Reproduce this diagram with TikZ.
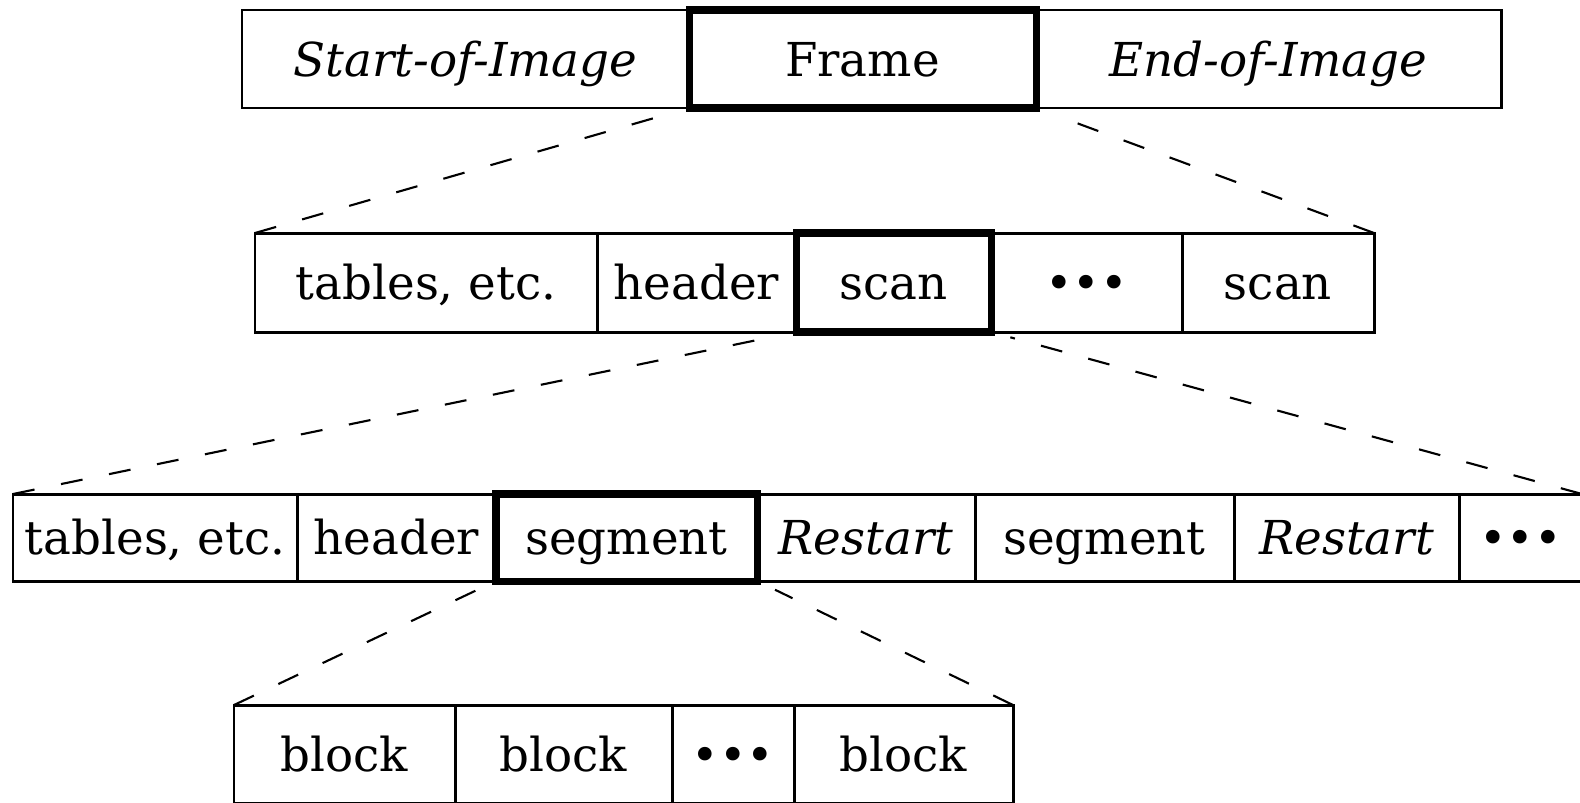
\documentclass[tikz,border=0pt]{standalone}
\usepackage{fontspec}
\setmainfont{DejaVu Serif}
\usepackage{tikz}
\usetikzlibrary{positioning}
\tikzset{
  cell/.style={draw,line width=0.85pt,inner sep=0pt,outer sep=0pt,text height=0.34cm,text depth=0pt,minimum height=#1},
  cell/.default=0.98cm,
  focus/.style={cell=#1,line width=2pt},
  focus/.default=0.98cm,
  link/.style={line width=0.6pt,dash pattern=on 0.22cm off 0.27cm,shorten >=0.2cm}
}

\begin{document}
\begin{tikzpicture}[font=\fontsize{13.3}{16}\selectfont]
  \useasboundingbox (0,0) rectangle (15.8,-8.02);
  \clip (0,0) rectangle (15.8,-8.02);
  % image level
  \node[cell,anchor=north west,minimum width=4.47cm] (soi) at (2.42,-0.10) {\itshape Start-of-Image};
  \node[focus,right=0pt of soi,minimum width=3.47cm] (frame) {Frame};
  \node[cell,right=0pt of frame,minimum width=4.65cm] (eoi) {\itshape End-of-Image};
  % frame level
  \node[cell=0.99cm,anchor=north west,minimum width=3.42cm] (tables) at (2.55,-2.33) {tables, etc.};
  \node[cell=0.99cm,right=0pt of tables,minimum width=1.99cm] (header) {header};
  \node[focus=0.99cm,right=0pt of header,minimum width=1.95cm] (scan) {scan};
  \node[cell=0.99cm,right=0pt of scan,minimum width=1.91cm] (scandots) {\textbullet\textbullet\textbullet};
  \node[cell=0.99cm,right=0pt of scandots,minimum width=1.92cm] (lastscan) {scan};
  % scan level
  \node[cell=0.87cm,anchor=north west,minimum width=2.84cm] (scantables) at (0.13,-4.94) {tables, etc.};
  \node[cell=0.87cm,right=0pt of scantables,minimum width=1.99cm] (scanheader) {header};
  \node[focus=0.87cm,right=0pt of scanheader,minimum width=2.61cm] (segment) {segment};
  \node[cell=0.87cm,right=0pt of segment,minimum width=2.18cm] (restart) {\itshape Restart};
  \node[cell=0.87cm,right=0pt of restart,minimum width=2.59cm] (segmentb) {segment};
  \node[cell=0.87cm,right=0pt of segmentb,minimum width=2.25cm] (restartb) {\itshape Restart};
  \node[cell=0.87cm,right=0pt of restartb,minimum width=1.23cm] (segdots) {\textbullet\textbullet\textbullet};
  % segment level
  \node[cell,anchor=north west,minimum width=2.21cm] (blocka) at (2.34,-7.05) {block};
  \node[cell,right=0pt of blocka,minimum width=2.17cm] (blockb) {block};
  \node[cell,right=0pt of blockb,minimum width=1.22cm] (blockdots) {\textbullet\textbullet\textbullet};
  \node[cell,right=0pt of blockdots,minimum width=2.19cm] (blockc) {block};
  % zoom lines
  \draw[link] (tables.north west) -- (frame.south west);
  \draw[link] (lastscan.north east) -- (frame.south east);
  \draw[link] (scantables.north west) -- (scan.south west);
  \draw[link] (segdots.north east) -- (scan.south east);
  \draw[link] (blocka.north west) -- (segment.south west);
  \draw[link] (blockc.north east) -- (segment.south east);
\end{tikzpicture}
\end{document}
